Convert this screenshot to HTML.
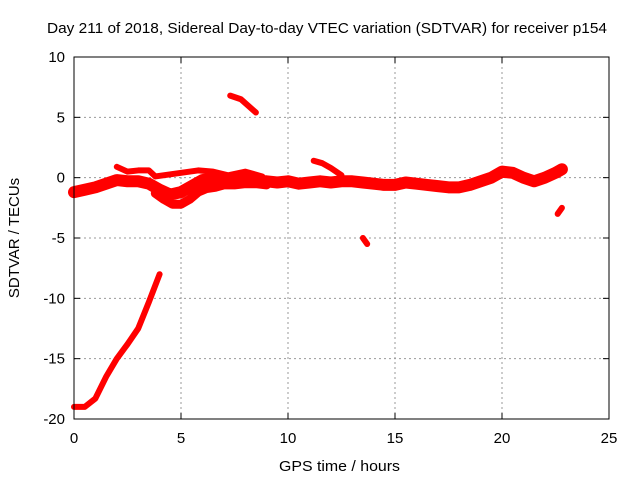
<!DOCTYPE html>
<html><head><meta charset="utf-8"><style>
body{margin:0;background:#fff}
svg{display:block;font-family:"Liberation Sans",sans-serif}
</style></head><body>
<svg id="c" width="640" height="480"></svg>
<script>
const xTicks=[0,5,10,15,20,25];
const yTicks=[-20,-15,-10,-5,0,5,10];
const bandHours=[0,0.5,1,1.5,2,2.5,3,3.5,4,4.5,5,5.5,6,6.5,7,7.5,8,8.5,9,9.5,10,10.5,11,11.5,12,12.5,13,13.5,14,14.5,15,15.5,16,16.5,17,17.5,18,18.5,19,19.5,20,20.5,21,21.5,22,22.5,22.8];
const bandVals=[-1.2,-1,-0.8,-0.5,-0.2,-0.3,-0.3,-0.5,-1,-1.4,-1.2,-0.7,-0.2,-0.1,-0.3,-0.3,-0.1,-0.3,-0.3,-0.4,-0.3,-0.5,-0.4,-0.3,-0.4,-0.3,-0.3,-0.4,-0.5,-0.6,-0.6,-0.4,-0.5,-0.6,-0.7,-0.8,-0.8,-0.6,-0.3,0,0.5,0.4,0,-0.3,0,0.4,0.7];
const lowHours=[3.8,4.2,4.6,5,5.4,5.8,6.2,6.6,7,7.5,8,8.5,9];
const lowVals=[-1.3,-1.8,-2.2,-2.2,-1.8,-1.2,-0.9,-0.8,-0.6,-0.6,-0.5,-0.5,-0.6];
const upHours=[2,2.5,3,3.5,3.8,5.8,6.5,7.2,8,8.8];
const upVals=[0.9,0.5,0.6,0.6,0.1,0.6,0.5,0.2,0.5,0.1];
const rampHours=[0,0.5,1,1.5,2,2.5,3,3.5,4];
const rampVals=[-19,-19,-18.3,-16.5,-15,-13.8,-12.5,-10.3,-8];
const arcHours=[7.3,7.8,8.5];
const arcVals=[6.8,6.5,5.4];
const bumpHours=[11.2,11.6,12,12.5];
const bumpVals=[1.4,1.2,0.8,0.2];
const dotAHours=[13.5,13.7];
const dotAVals=[-5,-5.5];
const dotBHours=[22.6,22.8];
const dotBVals=[-3,-2.5];
const L=74,R=609,T=57,B=419;
const sx=h=>L+(h-0)/25*(R-L);
const sy=v=>T+(10-v)/30*(B-T);
const svg=document.getElementById('c');
const NS='http://www.w3.org/2000/svg';
function mk(t,a){const e=document.createElementNS(NS,t);for(const k in a)e.setAttribute(k,a[k]);svg.appendChild(e);return e;}
mk('rect',{x:0,y:0,width:640,height:480,fill:'#fff'});
xTicks.forEach(t=>{
 if(t>0&&t<25){const g=mk('line',{x1:sx(t),x2:sx(t),y1:T,y2:B,stroke:'#999','stroke-dasharray':'2,3'});
 
 }
 const tx=mk('text',{x:sx(t),y:B+24,'text-anchor':'middle','font-size':15});tx.textContent=t;
 
 
 mk('line',{x1:sx(t),x2:sx(t),y1:B,y2:B-6,stroke:'#000'});mk('line',{x1:sx(t),x2:sx(t),y1:T,y2:T+6,stroke:'#000'});
});
yTicks.forEach(t=>{
 if(t>-20&&t<10){const g=mk('line',{x1:L,x2:R,y1:sy(t),y2:sy(t),stroke:'#999','stroke-dasharray':'2,3'});
 
 }
 const tx=mk('text',{x:L-9,y:sy(t)+5,'text-anchor':'end','font-size':15});tx.textContent=t;
 
 
 mk('line',{x1:L,x2:L+6,y1:sy(t),y2:sy(t),stroke:'#000'});mk('line',{x1:R,x2:R-6,y1:sy(t),y2:sy(t),stroke:'#000'});
});
function series(hs,vs,w,name){
 const p=mk('polyline',{points:hs.map((h,i)=>sx(h)+','+sy(vs[i])).join(' '),fill:'none',stroke:'#f00','stroke-width':w,'stroke-linejoin':'round','stroke-linecap':'round'});
 
 
}
series(bandHours,bandVals,12,'main-band-series');
series(lowHours,lowVals,9,'lower-band-series');
series(upHours,upVals,6,'upper-band-series');
series(rampHours,rampVals,6,'ramp-series');
series(arcHours,arcVals,6,'arc-series');
series(bumpHours,bumpVals,6,'bump-series');
series(dotAHours,dotAVals,6,'point-group-a');
series(dotBHours,dotBVals,6,'point-group-b');
const fr=mk('rect',{x:L,y:T,width:R-L,height:B-T,fill:'none',stroke:'#000'});


const ti=mk('text',{x:47,y:33,'font-size':15,textLength:560,lengthAdjust:'spacingAndGlyphs'});ti.textContent='Day 211 of 2018, Sidereal Day-to-day VTEC variation (SDTVAR) for receiver p154';


const xl=mk('text',{x:279,y:471,'font-size':15,textLength:121,lengthAdjust:'spacingAndGlyphs'});xl.textContent='GPS time / hours';


const yl=mk('text',{x:0,y:0,'font-size':15,'text-anchor':'middle',transform:'translate(19 238) rotate(-90)'});yl.textContent='SDTVAR / TECUs';


</script>
</body></html>
